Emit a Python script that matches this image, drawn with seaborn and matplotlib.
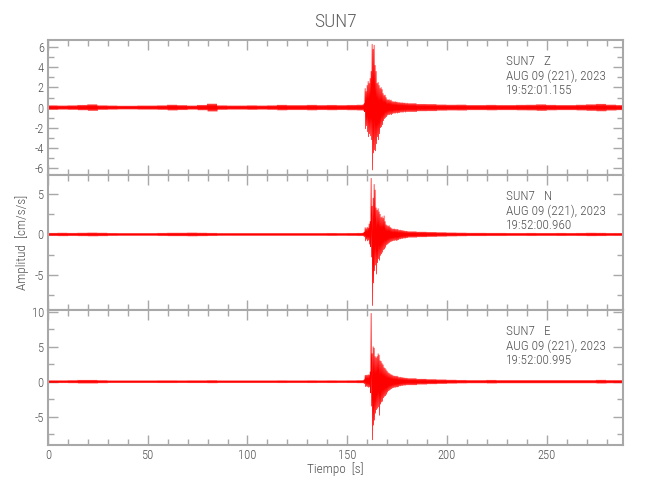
import numpy as np
import pandas as pd
import matplotlib
matplotlib.use('Agg')
import matplotlib.pyplot as plt
from matplotlib import font_manager as fm
from matplotlib.ticker import MultipleLocator
import seaborn as sns

# canales y encabezados
components = ['Z', 'N', 'E']
start_times = ['19:52:01.155', '19:52:00.960', '19:52:00.995']
date_label = 'AUG 09 (221), 2023'
station = 'SUN7'

# nivel de ruido (amplitud) por tramos de 5 s, t = 0, 5, ..., 285
noise_z = [0.2, 0.18, 0.2, 0.24, 0.3, 0.2, 0.18, 0.16, 0.16, 0.18, 0.18, 0.2, 0.26, 0.22, 0.18,
           0.24, 0.36, 0.2, 0.18, 0.18, 0.2, 0.18, 0.2, 0.25, 0.22, 0.22, 0.25, 0.22, 0.24, 0.22,
           0.24, 0.26, 0.3, 0.3, 0.3, 0.3, 0.4, 0.33, 0.32, 0.28, 0.26, 0.27, 0.23, 0.23, 0.25,
           0.23, 0.23, 0.25, 0.26, 0.3, 0.25, 0.23, 0.23, 0.26, 0.3, 0.34, 0.27, 0.23]
noise_n = [0.16, 0.18, 0.16, 0.18, 0.2, 0.18, 0.15, 0.14, 0.14, 0.14, 0.14, 0.16, 0.18, 0.18, 0.2,
           0.18, 0.16, 0.14, 0.14, 0.14, 0.14, 0.14, 0.14, 0.14, 0.14, 0.14, 0.14, 0.14, 0.15, 0.14,
           0.15, 0.16, 0.2, 0.2, 0.2, 0.2, 0.35, 0.3, 0.27, 0.24, 0.21, 0.19, 0.17, 0.17, 0.16,
           0.16, 0.15, 0.15, 0.16, 0.15, 0.15, 0.16, 0.15, 0.16, 0.18, 0.17, 0.15, 0.15]
noise_e = [0.16, 0.16, 0.18, 0.22, 0.22, 0.18, 0.15, 0.15, 0.15, 0.15, 0.15, 0.16, 0.16, 0.15, 0.16,
           0.16, 0.18, 0.15, 0.15, 0.15, 0.15, 0.15, 0.15, 0.16, 0.15, 0.15, 0.16, 0.15, 0.16, 0.15,
           0.16, 0.18, 0.2, 0.2, 0.2, 0.2, 0.45, 0.37, 0.32, 0.28, 0.24, 0.21, 0.19, 0.19, 0.22,
           0.19, 0.19, 0.19, 0.19, 0.19, 0.19, 0.19, 0.19, 0.19, 0.19, 0.23, 0.19, 0.19]

# envolvente del evento cada 0.5 s, t = 158.0 ... 180.0
ev_t0 = 158.0
z_up = [0.3, 0.4, 1.9, 1.6, 2.2, 2.6, 2.4, 2.9, 3.6, 6.3, 5.8, 6.2, 4.2, 3.6, 2.4, 2.5, 2.2, 1.9,
        2.0, 1.8, 1.4, 1.2, 1.25, 1.0, 0.8, 0.75, 0.8, 0.7, 0.75, 0.6, 0.6, 0.55, 0.6, 0.55,
        0.55, 0.5, 0.5, 0.5, 0.45, 0.5, 0.45, 0.45, 0.45, 0.4, 0.45]
z_lo = [0.3, 0.4, 2.1, 1.8, 2.4, 2.9, 2.6, 2.8, 3.2, 6.2, 4.5, 4.2, 4.3, 3.6, 2.9, 3.2, 2.6, 2.0,
        1.9, 1.7, 1.3, 1.1, 1.0, 0.9, 0.75, 0.7, 0.7, 0.65, 0.7, 0.6, 0.55, 0.55, 0.55, 0.5,
        0.55, 0.5, 0.5, 0.45, 0.45, 0.45, 0.45, 0.4, 0.45, 0.4, 0.4]
n_up = [0.2, 0.3, 0.85, 0.7, 0.9, 0.8, 1.3, 1.6, 6.95, 3.5, 4.5, 6.2, 5.5, 3.3, 3.0, 3.2, 2.8, 2.5,
        2.1, 2.2, 2.0, 2.3, 1.6, 1.2, 1.1, 1.0, 1.1, 0.9, 0.8, 0.7, 0.65, 0.7, 0.65, 0.6,
        0.65, 0.6, 0.5, 0.55, 0.5, 0.5, 0.45, 0.45, 0.4, 0.4, 0.4]
n_lo = [0.2, 0.3, 0.8, 0.6, 0.8, 0.7, 1.2, 1.5, 2.8, 8.8, 6.0, 4.5, 3.8, 4.9, 3.5, 3.0, 3.2, 2.6,
        2.4, 2.2, 1.9, 1.8, 1.6, 1.3, 1.2, 1.1, 1.0, 0.9, 0.85, 0.8, 0.75, 0.75, 0.7, 0.75,
        0.7, 0.65, 0.55, 0.55, 0.5, 0.5, 0.45, 0.45, 0.45, 0.4, 0.4]
e_up = [0.2, 0.3, 0.9, 0.95, 0.9, 1.0, 0.95, 1.4, 9.76, 4.0, 5.0, 4.8, 3.6, 3.4, 3.6, 4.0, 3.8, 3.0,
        2.9, 2.6, 2.4, 2.0, 1.9, 1.7, 1.5, 1.3, 1.2, 1.1, 1.0, 0.95, 0.85, 0.8, 0.8, 0.75,
        0.8, 0.7, 0.6, 0.65, 0.6, 0.6, 0.55, 0.55, 0.5, 0.5, 0.5]
e_lo = [0.2, 0.3, 0.7, 0.65, 0.7, 0.8, 0.75, 1.6, 3.5, 8.3, 6.2, 5.5, 4.5, 4.0, 3.8, 3.6, 4.8, 3.2,
        2.9, 2.8, 2.3, 2.1, 2.0, 1.8, 1.5, 1.3, 1.2, 1.1, 1.0, 0.9, 0.85, 0.8, 0.8, 0.75,
        0.75, 0.7, 0.6, 0.6, 0.55, 0.55, 0.5, 0.5, 0.5, 0.45, 0.45]

noise = [noise_z, noise_n, noise_e]
ups = [z_up, n_up, e_up]
los = [z_lo, n_lo, e_lo]
ylims = [(-6.7, 6.72), (-9.35, 7.36), (-9.04, 10.24)]
ymajor = [2, 5, 5]
yminor = [1, 2.5, 2.5]
t_end = 288.5

sns.set_style('ticks')
names = {f.name for f in fm.fontManager.ttflist}
fam = 'DejaVu Sans'
for c in ['Liberation Sans Narrow', 'Roboto Condensed', 'Open Sans Condensed']:
    if c in names:
        fam = c
        break
plt.rcParams['font.family'] = [fam, 'DejaVu Sans']
plt.rcParams['font.stretch'] = 'condensed'
plt.rcParams['font.weight'] = 'light'
plt.rcParams['axes.unicode_minus'] = False

txt = '#505050'
spine = '#a8a8a8'


def build_trace(nz, up, lo):
    # une los valores de envolvente leidos como columnas alternando max/min
    xs, ys = [], []
    t = 0.0
    n_ev = len(up)
    while t <= t_end:
        k = int(round((t - ev_t0) / 0.5))
        if 0 <= k < n_ev:
            a, b = up[k], lo[k]
        else:
            a = b = nz[min(int(t // 5), len(nz) - 1)]
        xs += [t, t + 0.25]
        ys += [a, -b]
        t += 0.5
    return pd.DataFrame({'t': xs, 'amp': ys})


fig, axes = plt.subplots(3, 1, figsize=(6.5, 5), dpi=100, sharex=True)
fig.subplots_adjust(left=0.0738, right=0.9592, top=0.92, bottom=0.11, hspace=0)

for i, ax in enumerate(axes):
    df = build_trace(noise[i], ups[i], los[i])
    sns.lineplot(x='t', y='amp', data=df, sort=False, estimator=None,
                 color='red', lw=0.5, ax=ax)
    ax.set_xlim(0, t_end)
    ax.set_ylim(*ylims[i])
    ax.set_xlabel('')
    ax.set_ylabel('')
    ax.xaxis.set_major_locator(MultipleLocator(50))
    ax.xaxis.set_minor_locator(MultipleLocator(10))
    ax.yaxis.set_major_locator(MultipleLocator(ymajor[i]))
    ax.yaxis.set_minor_locator(MultipleLocator(yminor[i]))
    ax.tick_params(which='both', direction='in', top=True, right=True,
                   color=spine, labelcolor=txt, labelsize=9, width=1)
    ax.tick_params(which='major', length=7, pad=3)
    ax.tick_params(which='minor', length=4)
    for s in ax.spines.values():
        s.set_color(spine)
        s.set_linewidth(1.5)
    lines = [f'{station}   {components[i]}', date_label, start_times[i]]
    for j, yy in enumerate([0.84, 0.733, 0.625]):
        ax.text(229.5, yy, lines[j], transform=ax.get_xaxis_transform(),
                fontsize=9.5, color=txt, va='center', ha='left')
    if i < 2:
        ax.tick_params(labelbottom=False)

fig.text(0.516, 0.956, station, ha='center', va='center', fontsize=14, color='#606060')
fig.text(0.516, 0.062, 'Tiempo  [s]', ha='center', va='center', fontsize=9.5, color=txt)
fig.text(0.034, 0.516, 'Amplitud  [cm/s/s]', ha='center', va='center', rotation=90,
         fontsize=9.5, color=txt)

plt.savefig('out.png', dpi=100)
